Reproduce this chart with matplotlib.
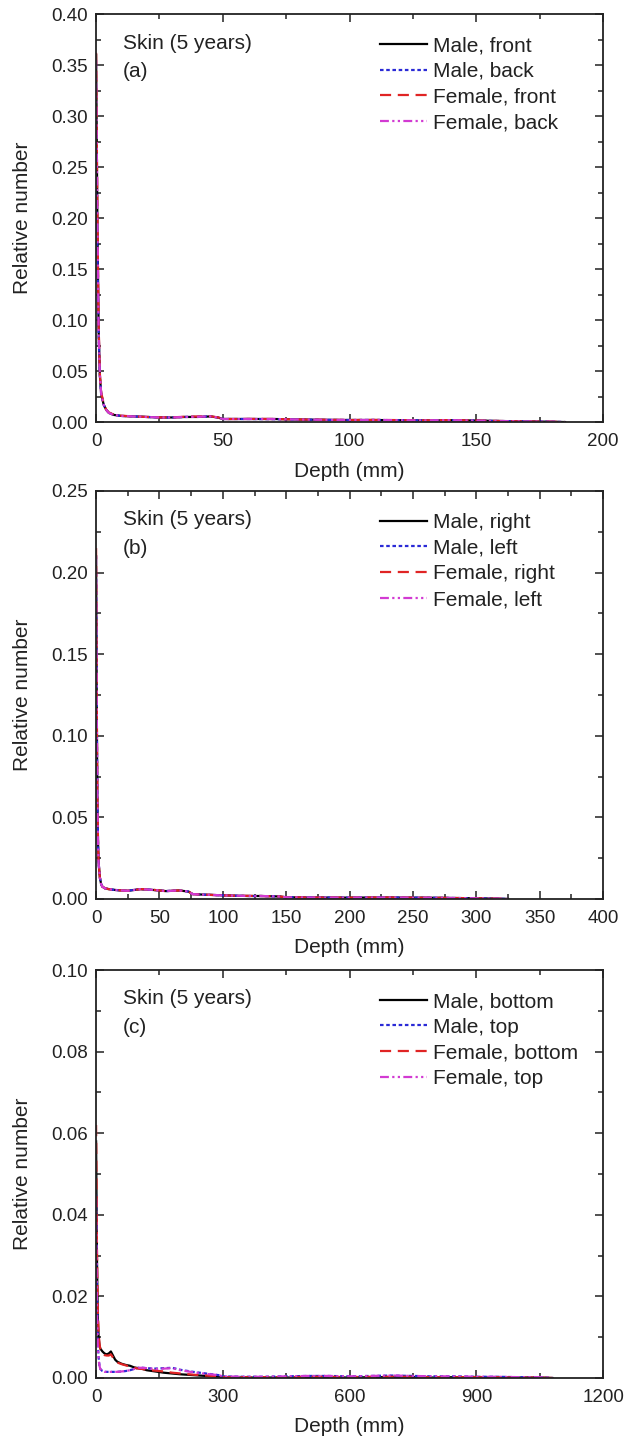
import matplotlib
matplotlib.use("Agg")
import matplotlib.pyplot as plt
from matplotlib.ticker import MultipleLocator, FormatStrFormatter

plt.rcParams["font.family"] = ["Liberation Sans", "DejaVu Sans"]
plt.rcParams["font.size"] = 15

# panel (a): front / back
depth_a = [0, 0.5, 1, 1.5, 2, 3, 4, 5, 7, 10, 15, 20, 25, 30, 35, 40, 45, 48,
           50, 55, 60, 70, 80, 90, 100, 110, 120, 130, 140, 150, 160, 170, 180, 185]
male_front = [0.36, 0.20, 0.09, 0.045, 0.028, 0.017, 0.012, 0.009, 0.007, 0.006, 0.0055,
              0.005, 0.0045, 0.0045, 0.005, 0.005, 0.0055, 0.0045, 0.003, 0.003, 0.003,
              0.003, 0.0025, 0.0022, 0.002, 0.002, 0.0018, 0.0016, 0.0018, 0.0015, 0.001,
              0.0006, 0.0003, 0.0]
male_back = [0.225, 0.17, 0.085, 0.044, 0.027, 0.017, 0.012, 0.009, 0.007, 0.006, 0.0055,
             0.005, 0.0045, 0.0045, 0.005, 0.0052, 0.0055, 0.0045, 0.003, 0.003, 0.003,
             0.0028, 0.0025, 0.0022, 0.002, 0.0021, 0.0018, 0.0017, 0.0018, 0.0014, 0.001,
             0.0006, 0.0003, 0.0]
female_front = [0.362, 0.21, 0.095, 0.047, 0.029, 0.018, 0.012, 0.0095, 0.0072, 0.0062,
                0.0055, 0.005, 0.0046, 0.0046, 0.0052, 0.0055, 0.0057, 0.0046, 0.003, 0.003,
                0.0031, 0.003, 0.0025, 0.0023, 0.002, 0.0021, 0.0019, 0.0017, 0.0019, 0.0015,
                0.001, 0.0006, 0.0003, 0.0]
female_back = [0.355, 0.20, 0.09, 0.046, 0.028, 0.017, 0.012, 0.009, 0.007, 0.006, 0.0055,
               0.005, 0.0045, 0.0045, 0.005, 0.0052, 0.0055, 0.0045, 0.003, 0.003, 0.003,
               0.003, 0.0025, 0.0022, 0.002, 0.0021, 0.0018, 0.0017, 0.0019, 0.0014, 0.001,
               0.0006, 0.0003, 0.0]

# panel (b): right / left
depth_b = [0, 0.5, 1, 1.5, 2, 3, 4, 5, 7, 10, 15, 20, 25, 30, 35, 40, 45, 50, 55, 60,
           65, 70, 73, 76, 80, 90, 100, 110, 120, 130, 140, 145, 150, 170, 200, 230,
           250, 270, 300, 315, 325]
male_right = [0.21, 0.12, 0.06, 0.035, 0.022, 0.013, 0.009, 0.0075, 0.0065, 0.006, 0.0055,
              0.0052, 0.005, 0.0055, 0.006, 0.0058, 0.0055, 0.0052, 0.0048, 0.005, 0.0052,
              0.0048, 0.0045, 0.003, 0.0028, 0.0025, 0.0022, 0.002, 0.0018, 0.0018, 0.0016,
              0.0015, 0.001, 0.0009, 0.0008, 0.0009, 0.0008, 0.0007, 0.0004, 0.0002, 0.0]
male_left = [0.20, 0.12, 0.06, 0.035, 0.022, 0.013, 0.009, 0.0075, 0.0065, 0.006, 0.0055,
             0.0052, 0.005, 0.0056, 0.006, 0.0058, 0.0055, 0.0053, 0.0048, 0.005, 0.0053,
             0.0048, 0.0045, 0.003, 0.0028, 0.0025, 0.0022, 0.002, 0.0018, 0.0018, 0.0016,
             0.0015, 0.001, 0.0009, 0.0008, 0.0009, 0.0008, 0.0007, 0.0004, 0.0002, 0.0]
female_right = [0.215, 0.125, 0.062, 0.036, 0.022, 0.013, 0.009, 0.0075, 0.0066, 0.006,
                0.0056, 0.0052, 0.005, 0.0055, 0.006, 0.0059, 0.0056, 0.0052, 0.0048, 0.005,
                0.0052, 0.0049, 0.0045, 0.003, 0.0028, 0.0025, 0.0022, 0.002, 0.0019,
                0.0018, 0.0016, 0.0015, 0.001, 0.0009, 0.0008, 0.0009, 0.0008, 0.0007,
                0.0004, 0.0002, 0.0]
female_left = [0.21, 0.12, 0.06, 0.035, 0.022, 0.013, 0.009, 0.0075, 0.0065, 0.006, 0.0055,
               0.0052, 0.005, 0.0055, 0.006, 0.0058, 0.0055, 0.0052, 0.0048, 0.005, 0.0052,
               0.0048, 0.0045, 0.003, 0.0028, 0.0025, 0.0022, 0.002, 0.0018, 0.0018, 0.0016,
               0.0015, 0.001, 0.0009, 0.0008, 0.0009, 0.0008, 0.0007, 0.0004, 0.0002, 0.0]

# panel (c): bottom / top
depth_c = [0, 2, 4, 6, 8, 10, 15, 20, 25, 30, 35, 40, 45, 50, 60, 70, 80, 90, 100, 110,
           120, 140, 160, 180, 200, 230, 260, 290, 300, 350, 400, 450, 500, 550, 600,
           650, 700, 750, 800, 850, 900, 950, 1000, 1050, 1080]
male_bottom = [0.058, 0.03, 0.015, 0.01, 0.008, 0.0072, 0.0065, 0.006, 0.0058, 0.006, 0.0065,
               0.0055, 0.0045, 0.004, 0.0035, 0.0032, 0.003, 0.0026, 0.0024, 0.0022, 0.0019,
               0.0016, 0.0013, 0.0011, 0.0009, 0.0007, 0.0005, 0.0003, 0.0001, 0.0001,
               0.0001, 0.0001, 0.0002, 0.0002, 0.0001, 0.0002, 0.0002, 0.0002, 0.0001,
               0.0002, 0.0001, 0.0001, 0.0001, 0.0001, 0.0]
male_top = [0.045, 0.02, 0.009, 0.005, 0.003, 0.0022, 0.0017, 0.0015, 0.0015, 0.0015, 0.0015,
            0.0015, 0.0015, 0.0015, 0.0016, 0.0017, 0.0019, 0.0022, 0.0025, 0.0025, 0.0024,
            0.0023, 0.0024, 0.0025, 0.002, 0.0015, 0.0011, 0.0007, 0.0004, 0.0003, 0.0003,
            0.0004, 0.0005, 0.0005, 0.0004, 0.0005, 0.0006, 0.0005, 0.0004, 0.0004, 0.0003,
            0.0003, 0.0002, 0.0002, 0.0]
female_bottom = [0.062, 0.032, 0.016, 0.011, 0.0085, 0.007, 0.0062, 0.0056, 0.0055, 0.0055,
                 0.0058, 0.005, 0.0043, 0.0038, 0.0034, 0.0031, 0.0028, 0.0025, 0.0023,
                 0.0022, 0.002, 0.0018, 0.0016, 0.0013, 0.0011, 0.0008, 0.0006, 0.0004,
                 0.0002, 0.0002, 0.0002, 0.0002, 0.0003, 0.0003, 0.0002, 0.0003, 0.0003,
                 0.0003, 0.0002, 0.0002, 0.0002, 0.0002, 0.0001, 0.0001, 0.0]
female_top = [0.044, 0.018, 0.008, 0.0045, 0.003, 0.0022, 0.0017, 0.0015, 0.0015, 0.0015,
              0.0015, 0.0015, 0.0015, 0.0015, 0.0016, 0.0017, 0.0019, 0.0022, 0.0025, 0.0025,
              0.0024, 0.0022, 0.0023, 0.0024, 0.0019, 0.0014, 0.001, 0.0007, 0.0004, 0.0003,
              0.0003, 0.0004, 0.0005, 0.0005, 0.0004, 0.0005, 0.0006, 0.0005, 0.0004, 0.0004,
              0.0003, 0.0003, 0.0002, 0.0002, 0.0]

# styles: (colour, dash pattern)
STYLES = [
    ("black", "-"),
    ("#2a2ad6", (0, (1.6, 1.2))),
    ("#e02424", (0, (5, 3))),
    ("#d23ad2", (0, (4, 1.5, 1, 1.5, 1, 1.5))),
]

panels = [
    (depth_a, [male_front, male_back, female_front, female_back],
     ["Male, front", "Male, back", "Female, front", "Female, back"],
     "(a)", 200, 50, 25, 0.40, 0.05, 0.025),
    (depth_b, [male_right, male_left, female_right, female_left],
     ["Male, right", "Male, left", "Female, right", "Female, left"],
     "(b)", 400, 50, 25, 0.25, 0.05, 0.025),
    (depth_c, [male_bottom, male_top, female_bottom, female_top],
     ["Male, bottom", "Male, top", "Female, bottom", "Female, top"],
     "(c)", 1200, 300, 150, 0.10, 0.02, 0.01),
]

fig = plt.figure(figsize=(6.24, 14.39), dpi=100)
bottoms = [0.7067, 0.3753, 0.0424]

for (x, series, labels, tag, xmax, xmaj, xmin_, ymax, ymaj, ymin_), b in zip(panels, bottoms):
    ax = fig.add_axes([0.154, b, 0.8125, 0.2835])
    for ys, lab, (c, ls) in zip(series, labels, STYLES):
        ax.plot(x, ys, color=c, ls=ls, lw=1.6, label=lab)
    ax.set_xlim(0, xmax)
    ax.set_ylim(0, ymax)
    ax.xaxis.set_major_locator(MultipleLocator(xmaj))
    ax.xaxis.set_minor_locator(MultipleLocator(xmin_))
    ax.yaxis.set_major_locator(MultipleLocator(ymaj))
    ax.yaxis.set_minor_locator(MultipleLocator(ymin_))
    ax.yaxis.set_major_formatter(FormatStrFormatter("%.2f"))
    ax.tick_params(which="both", direction="in", top=True, right=True, labelsize=13.5,
                   colors="#222222")
    ax.tick_params(which="major", length=6, width=1.1, pad=6)
    ax.tick_params(axis="x", which="major", pad=8)
    ax.tick_params(which="minor", length=3.5, width=1.1)
    for s in ax.spines.values():
        s.set_linewidth(1.3)
        s.set_color("#222222")
    ax.set_xlabel("Depth (mm)", fontsize=15, color="#222222")
    ax.set_ylabel("Relative number", fontsize=15, color="#222222")
    ax.xaxis.set_label_coords(0.5, -0.12)
    ax.xaxis.label.set_va("center")
    ax.yaxis.set_label_coords(-0.146, 0.5)
    ax.yaxis.label.set_va("center")
    ax.text(0.053, 0.929, "Skin (5 years)", transform=ax.transAxes, fontsize=15,
            va="center", color="#222222")
    ax.text(0.053, 0.86, tag, transform=ax.transAxes, fontsize=15, va="center",
            color="#222222")
    leg = ax.legend(loc="upper left", bbox_to_anchor=(0.559, 0.946), frameon=False,
                    fontsize=15, handlelength=2.3, handletextpad=0.25, labelspacing=0.32,
                    borderaxespad=0, borderpad=0)
    for t in leg.get_texts():
        t.set_color("#222222")

fig.savefig("out.png", dpi=100)
